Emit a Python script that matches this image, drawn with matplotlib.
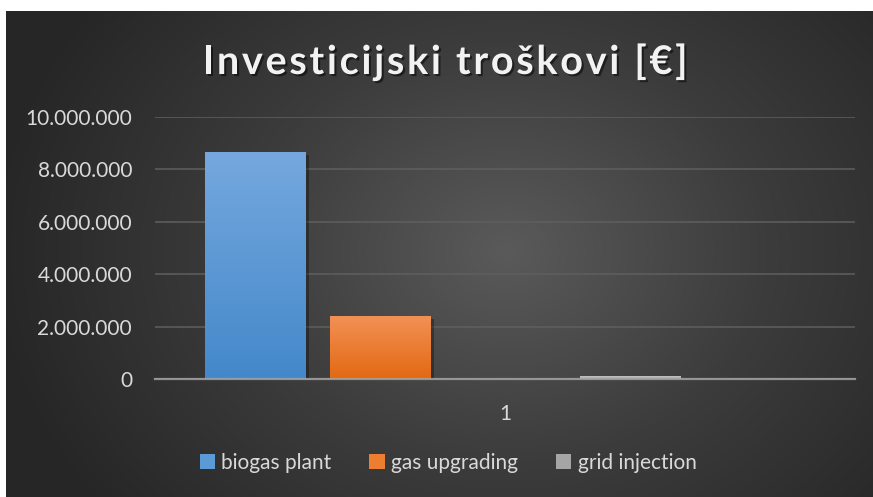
import numpy as np
import matplotlib.pyplot as plt
import matplotlib.patheffects as pe
from matplotlib.colors import LinearSegmentedColormap
from matplotlib.patches import Patch
from matplotlib.ticker import FuncFormatter
from matplotlib.textpath import TextToPath
from matplotlib.font_manager import FontProperties

plt.rcParams['font.family'] = ['Lato', 'DejaVu Sans']

title = 'Investicijski troškovi [€]'
category = '1'
series = ['biogas plant', 'gas upgrading', '', 'grid injection', '']
values = [8650000, 2400000, 0, 110000, 0]
top_colors = ['#75a8de', '#f29055', None, '#c4c4c4', None]
bottom_colors = ['#4488ca', '#e36913', None, '#a6a6a6', None]
legend_colors = ['#5b9bd5', '#ed7d31', None, '#a5a5a5', None]
yticks = [0, 2000000, 4000000, 6000000, 8000000, 10000000]

W, H = 873, 497
fig = plt.figure(figsize=(W / 100, H / 100), dpi=100)
fig.patch.set_facecolor('white')

# radial gradient background (Excel dark style)
bg = fig.add_axes([6 / W, 0, 1 - 6 / W, 1 - 11 / H])
bg.set_axis_off()
yy, xx = np.mgrid[0:486, 0:867]
d = np.sqrt(((xx - 500) / 520) ** 2 + ((yy - 240) / 420) ** 2)
d = np.clip(d, 0, 1)
bg_cmap = LinearSegmentedColormap.from_list('bg', ['#5a5a5a', '#3c3c3c', '#262626'])
bg.imshow(d, cmap=bg_cmap, aspect='auto', vmin=0, vmax=1, interpolation='bilinear')

ax = fig.add_axes([155 / W, 1 - 379 / H, 700 / W, 262 / H])
ax.set_facecolor('none')

pos = np.arange(len(series))
width = 101 / 125
for p, v, tc, bc in zip(pos, values, top_colors, bottom_colors):
    if tc is None or v <= 0:
        continue
    ax.bar(p, v, width, color=bc, zorder=2,
           path_effects=[pe.SimplePatchShadow(offset=(2, -2), alpha=0.3, shadow_rgbFace='black'), pe.Normal()])
    cmap = LinearSegmentedColormap.from_list('g', [bc, tc])
    grad = np.linspace(0, 1, 100).reshape(-1, 1)
    ax.imshow(grad, cmap=cmap, aspect='auto', origin='lower',
              extent=[p - width / 2, p + width / 2, 0, v], zorder=3)

ax.set_xlim(-0.804, 4.796)
ax.set_ylim(0, 10000000)
ax.set_yticks(yticks)
ax.yaxis.set_major_formatter(FuncFormatter(lambda v, _: f'{int(v):,}'.replace(',', '.')))
ax.set_xticks([pos.mean()])
ax.set_xticklabels([category])
ax.grid(axis='y', color='#5f5f5f', linewidth=1.1, zorder=0)
ax.set_axisbelow(True)
for s in ['top', 'right', 'left']:
    ax.spines[s].set_visible(False)
ax.spines['bottom'].set_color('#a3a3a3')
ax.spines['bottom'].set_linewidth(1.6)
ax.spines['bottom'].set_alpha(0.85)
ax.spines['bottom'].set_zorder(5)
ax.tick_params(axis='both', length=0, colors='#d9d9d9', labelsize=15)
ax.tick_params(axis='y', pad=16.5)
ax.tick_params(axis='x', pad=18)

# title with letter spacing, drawn char by char
fp = FontProperties(family='Lato', weight='bold', size=28.5)
ttp = TextToPath()
spacing = 2.7
widths = [ttp.get_text_width_height_descent(c, fp, ismath=False)[0] * 100 / 72 for c in title]
total = sum(widths) + spacing * (len(title) - 1)
x0 = 445 - total / 2
for c, w in zip(title, widths):
    fig.text(x0 / W, 1 - 74 / H, c, fontproperties=fp, color='#f2f2f2', ha='left', va='baseline',
             path_effects=[pe.withSimplePatchShadow(offset=(1.5, -1.5), alpha=0.5, shadow_rgbFace='black')])
    x0 += w + spacing

handles = [Patch(facecolor=c, edgecolor='none', label=s) for s, c in zip(series, legend_colors) if c]
fig.legend(handles=handles, loc='center', bbox_to_anchor=(448 / W, 1 - 463 / H), ncol=3,
           frameon=False, fontsize=15, labelcolor='#d9d9d9', handlelength=0.75, handleheight=0.75,
           handletextpad=0.3, columnspacing=1.8)

fig.savefig('out.png', dpi=100)
